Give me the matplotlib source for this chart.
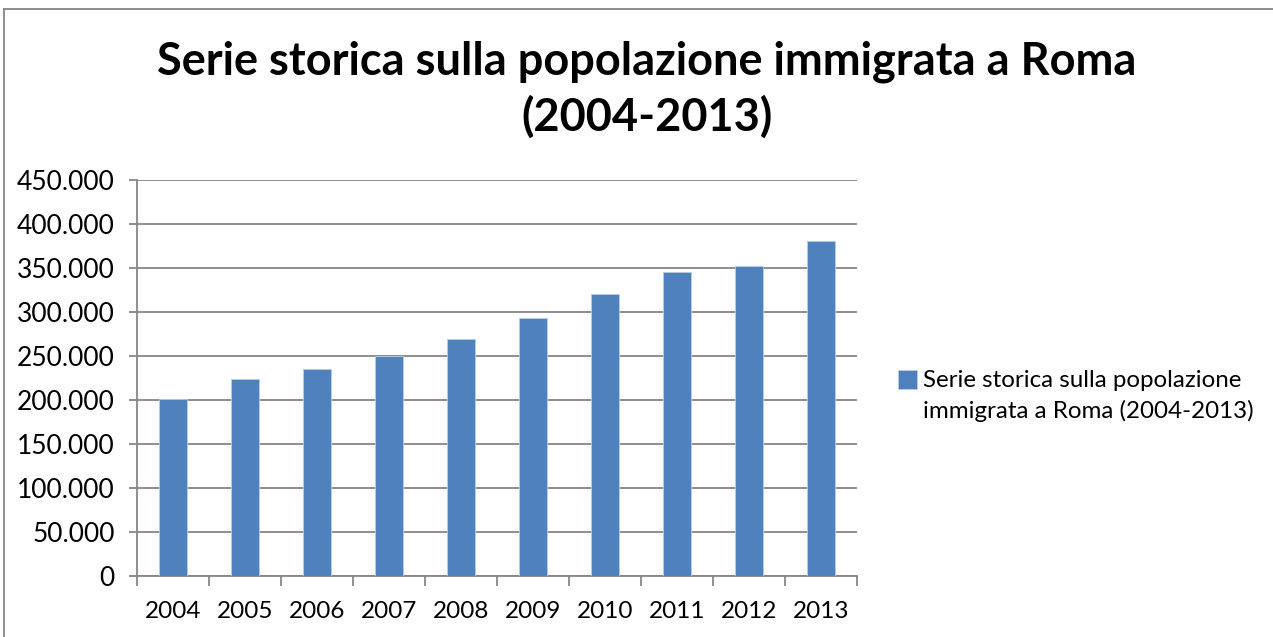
import matplotlib.pyplot as plt
from matplotlib.lines import Line2D
from matplotlib.ticker import FuncFormatter, FixedLocator
import numpy as np

# Data
anni = ["2004", "2005", "2006", "2007", "2008", "2009", "2010", "2011", "2012", "2013"]
immigrati = [201500, 223500, 235200, 250400, 269300, 292800, 320500, 345500, 351900, 381000]
titolo = "Serie storica sulla popolazione immigrata a Roma\n(2004-2013)"
etichetta = "Serie storica sulla popolazione\nimmigrata a Roma (2004-2013)"

plt.rcParams['font.family'] = ['Lato', 'DejaVu Sans']
grigio = "#868686"
blu = "#4F81BD"

fig = plt.figure(figsize=(12.73, 6.37), dpi=100)
ax = fig.add_axes([137 / 1273, 1 - 576 / 637, 720 / 1273, 396 / 637])

x = np.arange(len(anni))
bars = ax.bar(x, immigrati, width=0.4, color=blu, edgecolor="#B9CDE5", linewidth=0.6,
              label=etichetta, zorder=3)

ax.set_xlim(-0.5, len(anni) - 0.5)
ax.set_ylim(0, 450000)
ax.set_yticks(np.arange(0, 450001, 50000))
ax.yaxis.set_major_formatter(FuncFormatter(lambda v, p: f"{v:,.0f}".replace(",", ".")))
ax.set_xticks(x)
ax.set_xticklabels(anni)
ax.xaxis.set_minor_locator(FixedLocator(np.arange(-0.5, len(anni), 1.0)))

ax.grid(axis="y", color=grigio, linewidth=1.3, zorder=0)
ax.set_axisbelow(True)
for s in ["top", "right"]:
    ax.spines[s].set_visible(False)
for s in ["left", "bottom"]:
    ax.spines[s].set_color(grigio)
    ax.spines[s].set_linewidth(1.3)

ax.tick_params(axis="x", which="major", length=0, pad=18, labelsize=17.5)
ax.tick_params(axis="x", which="minor", length=7, width=1.3, color=grigio, direction="out")
ax.tick_params(axis="y", length=6, width=1.3, color=grigio, direction="out", pad=10, labelsize=19)

fig.text(647 / 1273, 1 - 90 / 637, titolo, ha="center", va="center", fontsize=32.5,
         fontweight="bold", linespacing=1.35)

leg = fig.legend(loc="center left", bbox_to_anchor=(898 / 1273, 1 - 396 / 637), frameon=False,
                 fontsize=17.4, handlelength=0.8, handleheight=0.8, handletextpad=0.25,
                 borderaxespad=0, borderpad=0, labelspacing=0)
for t in leg.get_texts():
    t.set_linespacing(1.45)
for col in leg._legend_handle_box.get_children():
    for item in col.get_children():
        item.align = "top"

# outer chart frame (top and left edges visible)
fig.add_artist(Line2D([3.5 / 1273, 1], [1 - 9 / 637, 1 - 9 / 637], color=grigio, linewidth=1.3))
fig.add_artist(Line2D([3.5 / 1273, 3.5 / 1273], [0, 1 - 9 / 637], color=grigio, linewidth=1.3))

fig.savefig("out.png", dpi=100)
